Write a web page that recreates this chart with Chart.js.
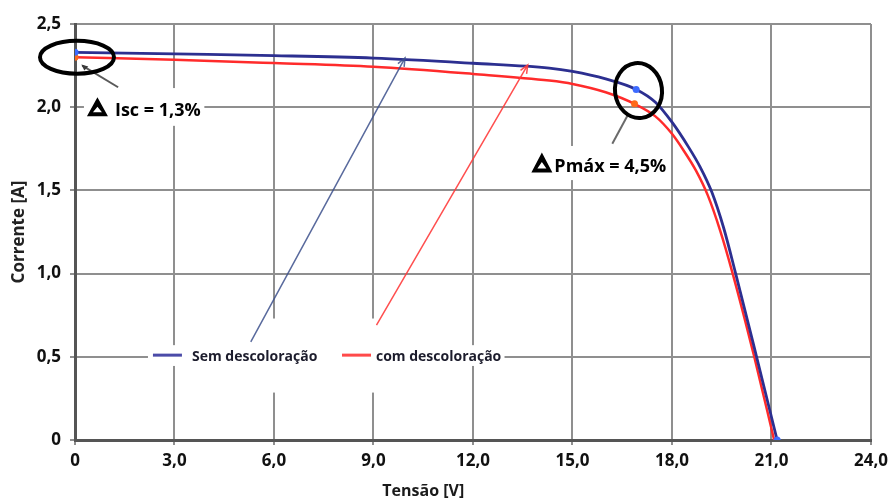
<!DOCTYPE html>
<html>
<head>
<meta charset="utf-8">
<script src="https://cdn.jsdelivr.net/npm/chart.js@4"></script>
<style>
  html, body { margin: 0; padding: 0; background: #fff; }
  #caixa { width: 894px; height: 499px; position: relative; }
</style>
</head>
<body>
<div id="caixa"><canvas id="grafico"></canvas></div>
<script>
// curva I-V sem descoloração
const tensaoSem = [0, 3, 6, 9, 12, 14.3, 15, 16, 16.92, 17.5, 18, 18.5, 18.85, 19.2, 19.55, 19.92, 20.55, 21.17]
const correnteSem = [2.33, 2.32, 2.31, 2.295, 2.264, 2.235, 2.215, 2.17, 2.107, 2.03, 1.91, 1.76, 1.64, 1.49, 1.28, 1.0, 0.5, 0]

// curva I-V com descoloração
const tensaoCom = [0, 3, 6, 9, 12, 14.3, 15, 16, 16.87, 17.5, 18, 18.35, 18.72, 19.08, 19.45, 19.83, 20.48, 21.08]
const correnteCom = [2.30, 2.285, 2.265, 2.243, 2.2, 2.16, 2.14, 2.09, 2.02, 1.945, 1.84, 1.74, 1.62, 1.47, 1.26, 1.0, 0.5, 0]

// pontos destacados (Isc, Pmáx, Voc)
const marcadosSem = [0, 8, 17]
const marcadosCom = [0, 8]

const rotulosX = ['0', '3,0', '6,0', '9,0', '12,0', '15,0', '18,0', '21,0', '24,0']
const rotulosY = ['0', '0,5', '1,0', '1,5', '2,0', '2,5']

const series = ['Sem descoloração', 'com descoloração']
const corSem = '#2c2f90'
const corCom = '#ff2b2b'

const fonte = '"Open Sans", "DejaVu Sans", sans-serif'

function pares(xs, ys) {
  return xs.map((x, i) => ({ x: x, y: ys[i] }))
}

function seta(ctx, x1, y1, x2, y2, cor, larg) {
  ctx.save()
  ctx.strokeStyle = cor
  ctx.lineWidth = larg
  ctx.beginPath()
  ctx.moveTo(x1, y1)
  ctx.lineTo(x2, y2)
  const ang = Math.atan2(y2 - y1, x2 - x1)
  const t = 9
  ctx.moveTo(x2 - t * Math.cos(ang - 0.4), y2 - t * Math.sin(ang - 0.4))
  ctx.lineTo(x2, y2)
  ctx.lineTo(x2 - t * Math.cos(ang + 0.4), y2 - t * Math.sin(ang + 0.4))
  ctx.stroke()
  ctx.restore()
}

// Δ grosso desenhado como triângulo vazado
function delta(ctx, x, yBase, w, h) {
  const e = 5
  ctx.save()
  ctx.fillStyle = '#000'
  ctx.beginPath()
  ctx.moveTo(x, yBase)
  ctx.lineTo(x + w / 2, yBase - h)
  ctx.lineTo(x + w, yBase)
  ctx.closePath()
  ctx.moveTo(x + e * 1.2, yBase - e * 0.8)
  ctx.lineTo(x + w - e * 1.2, yBase - e * 0.8)
  ctx.lineTo(x + w / 2, yBase - h + e * 1.9)
  ctx.closePath()
  ctx.fill('evenodd')
  ctx.restore()
}

const anotacoes = {
  id: 'anotacoes',
  beforeDatasetsDraw(chart) {
    const ctx = chart.ctx
    const sx = chart.scales.x, sy = chart.scales.y
    const P = (x, y) => [sx.getPixelForValue(x), sy.getPixelForValue(y)]
    ctx.save()
    ctx.fillStyle = '#fff'
    // fundo da legenda
    let a = P(2.2, 0.57), b = P(12.95, 0.445)
    ctx.fillRect(a[0], a[1], b[0] - a[0], b[1] - a[1])
    a = P(3.6, 0.73); b = P(11.3, 0.285)
    ctx.fillRect(a[0], a[1], b[0] - a[0], b[1] - a[1])
    // fundo dos rótulos
    a = P(0.27, 2.115); b = P(3.9, 1.888)
    ctx.fillRect(a[0], a[1], b[0] - a[0], b[1] - a[1])
    a = P(13.6, 1.767); b = P(17.9, 1.562)
    ctx.fillRect(a[0], a[1], b[0] - a[0], b[1] - a[1])
    ctx.restore()
  },
  afterDatasetsDraw(chart) {
    const ctx = chart.ctx
    const sx = chart.scales.x, sy = chart.scales.y
    const P = (x, y) => [sx.getPixelForValue(x), sy.getPixelForValue(y)]

    // setas das curvas
    let a = P(5.3, 0.59), b = P(9.95, 2.296)
    seta(ctx, a[0], a[1], b[0], b[1], 'rgba(60,80,140,0.85)', 1.5)
    a = P(9.09, 0.69); b = P(13.65, 2.254)
    seta(ctx, a[0], a[1], b[0], b[1], 'rgba(255,60,60,0.9)', 1.5)

    // indicadores cinza
    ctx.save()
    ctx.strokeStyle = '#5a5a5a'
    ctx.fillStyle = '#3a3a3a'
    ctx.lineWidth = 2
    a = P(1.3, 2.12); b = P(0.22, 2.25)
    ctx.beginPath(); ctx.moveTo(a[0], a[1]); ctx.lineTo(b[0], b[1]); ctx.stroke()
    ctx.beginPath(); ctx.moveTo(b[0] - 1, b[1] - 1); ctx.lineTo(b[0] + 6, b[1] + 1); ctx.lineTo(b[0] + 2, b[1] + 5); ctx.fill()
    a = P(16.2, 1.78); b = P(16.66, 1.95)
    ctx.strokeStyle = '#6a6a6a'
    ctx.beginPath(); ctx.moveTo(a[0], a[1]); ctx.lineTo(b[0], b[1]); ctx.stroke()
    ctx.restore()

    // elipses
    ctx.save()
    ctx.strokeStyle = '#000'
    ctx.lineWidth = 4
    a = P(0.06, 2.3)
    ctx.beginPath(); ctx.ellipse(a[0], a[1], 37, 16.5, 0, 0, Math.PI * 2); ctx.stroke()
    a = P(16.99, 2.1)
    ctx.beginPath(); ctx.ellipse(a[0], a[1], 23.5, 27.5, -0.12, 0, Math.PI * 2); ctx.stroke()
    ctx.restore()

    // textos Δ
    ctx.save()
    ctx.fillStyle = '#000'
    ctx.textBaseline = 'alphabetic'
    ctx.textAlign = 'left'
    ctx.font = 'bold 18px ' + fonte
    a = P(0.36, 1.945)
    delta(ctx, a[0], a[1], 21, 19)
    ctx.fillText('Isc = 1,3%', a[0] + 28, a[1])
    a = P(13.76, 1.608)
    delta(ctx, a[0], a[1], 21, 20)
    ctx.fillText('Pmáx = 4,5%', a[0] + 23, a[1])
    ctx.restore()

    // legenda
    ctx.save()
    ctx.lineWidth = 3
    ctx.font = 'bold 14px ' + fonte
    ctx.fillStyle = '#1c1c2c'
    ctx.textBaseline = 'middle'
    const itens = [2.35, 8.05]
    itens.forEach((xi, i) => {
      const p = P(xi, 0.51)
      ctx.strokeStyle = i === 0 ? '#4b4ba8' : '#ff4a4a'
      ctx.beginPath(); ctx.moveTo(p[0], p[1]); ctx.lineTo(p[0] + 29, p[1]); ctx.stroke()
      ctx.fillText(series[i], p[0] + 39 - (i === 0 ? 0 : 5), p[1] + 2)
    })
    ctx.restore()

    // título do eixo x
    ctx.save()
    ctx.font = 'bold 16px ' + fonte
    ctx.fillStyle = '#1a1a1a'
    ctx.textAlign = 'center'
    ctx.textBaseline = 'middle'
    a = P(10.5, 0)
    ctx.fillText('Tensão [V]', a[0], 491)
    ctx.restore()
  }
}

const ctx = document.getElementById('grafico')

new Chart(ctx, {
  type: 'line',
  data: {
    datasets: [
      {
        label: series[0],
        data: pares(tensaoSem, correnteSem),
        borderColor: corSem,
        borderWidth: 2.8,
        pointRadius: 0,
        cubicInterpolationMode: 'monotone',
        order: 2
      },
      {
        label: series[1],
        data: pares(tensaoCom, correnteCom),
        borderColor: corCom,
        borderWidth: 2.5,
        pointRadius: 0,
        cubicInterpolationMode: 'monotone',
        order: 3
      },
      {
        label: 'marcadores sem',
        data: marcadosSem.map(i => ({ x: tensaoSem[i], y: correnteSem[i] })),
        showLine: false,
        pointRadius: 3.5,
        pointBorderWidth: 0,
        pointBackgroundColor: '#3d6bff',
        order: 0
      },
      {
        label: 'marcadores com',
        data: marcadosCom.map(i => ({ x: tensaoCom[i], y: correnteCom[i] })),
        showLine: false,
        pointRadius: 3.5,
        pointBorderWidth: 0,
        pointBackgroundColor: '#ff6a1a',
        order: 1
      }
    ]
  },
  options: {
    responsive: true,
    maintainAspectRatio: false,
    animation: false,
    devicePixelRatio: 1,
    layout: { padding: { left: 0, right: 22, top: 24, bottom: 0 } },
    plugins: {
      legend: { display: false },
      tooltip: { enabled: false }
    },
    scales: {
      x: {
        type: 'linear',
        min: 0,
        max: 24,
        afterFit: s => { s.height = 59 },
        afterBuildTicks: s => { s.ticks = rotulosX.map((_, i) => ({ value: i * 3 })) },
        ticks: {
          callback: (v, i) => rotulosX[i],
          font: { family: fonte, size: 17, weight: 'bold' },
          color: '#111',
          padding: 6,
          maxRotation: 0,
          autoSkip: false
        },
        grid: { color: '#8f8f8f', lineWidth: 2, tickLength: 5 },
        border: { color: '#555', width: 3 }
      },
      y: {
        min: 0,
        max: 2.5,
        afterFit: s => { s.width = 75 },
        afterBuildTicks: s => { s.ticks = rotulosY.map((_, i) => ({ value: i * 0.5 })) },
        ticks: {
          callback: (v, i) => rotulosY[i],
          font: { family: fonte, size: 17, weight: 'bold' },
          color: '#111',
          padding: 9
        },
        grid: { color: '#8f8f8f', lineWidth: 2, tickLength: 5 },
        border: { color: '#555', width: 3 },
        title: {
          display: true,
          text: 'Corrente [A]',
          font: { family: fonte, size: 17, weight: 'bold' },
          color: '#222',
          padding: { top: 9, bottom: 0 }
        }
      }
    }
  },
  plugins: [anotacoes]
})
</script>
</body>
</html>
